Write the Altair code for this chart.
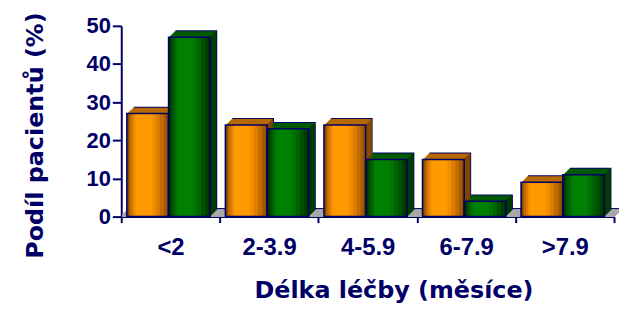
import altair as alt
import pandas as pd

categories = ["<2", "2-3.9", "4-5.9", "6-7.9", ">7.9"]
orange_vals = [27, 24, 24, 15, 9]
green_vals = [47, 23, 15, 4, 11]
y_ticks = [0, 10, 20, 30, 40, 50]

df = pd.DataFrame({
    "kat": categories * 2,
    "skupina": ["A"] * len(categories) + ["B"] * len(categories),
    "podil": orange_vals + green_vals,
})

NAVY = "#000066"
D = 7      # 3D depth in px
W = 42     # bar width in px
OFF = {"A": -23, "B": 19}
PW, PH = 496, 192

# shading strips of the front face: (width, shift from bar centre, colour)
STRIPS = {
    "A": [(42, 0, "#864600"), (38, 0, "#A45A00"), (34, -1, "#C26C00"),
          (28, -2, "#DE7E00"), (22, -3, "#F28E00"), (16, -4, "#FF9900")],
    "B": [(42, 0, "#002C00"), (38, 0, "#003E00"), (34, -1, "#005000"),
          (28, -2, "#006200"), (22, -3, "#007200"), (16, -4, "#008000")],
}
TOP = {"A": "#B86800", "B": "#005A00"}
SIDE = {"A": "#7A4000", "B": "#003600"}

x = alt.X(
    "kat:N", sort=categories,
    scale=alt.Scale(paddingInner=0, paddingOuter=0),
    axis=alt.Axis(
        title="Délka léčby (měsíce)", labelAngle=0, tickBand="extent",
        tickSize=6, labelPadding=13, labelFontSize=24, labelFont="Liberation Sans",
        titleFontSize=24, titleFont="DejaVu Sans",
        titleX=274, titleY=81, titleAlign="center", titleBaseline="alphabetic",
    ),
)
y = alt.Y(
    "podil:Q",
    scale=alt.Scale(domain=[0, 50], nice=False),
    axis=alt.Axis(
        title="Podíl pacientů (%)", values=y_ticks, tickSize=9, labelPadding=2,
        labelFontSize=22, labelFont="Liberation Sans",
        titleFontSize=24, titleFont="DejaVu Sans", titleAngle=270,
        titleX=-86, titleY=110, titleAlign="center", titleBaseline="middle",
    ),
)

base = alt.Chart(df).encode(x=x, y=y)


def series(s):
    return base.transform_filter(alt.datum.skupina == s)


layers = []

# floor (thin sheared slab under the bars)
for k in range(D, 0, -1):
    layers.append(
        alt.Chart(df).mark_rect(fill=NAVY if k == D else "#a8a8a8").encode(
            x=alt.value(k), x2=alt.value(PW + k),
            y=alt.value(PH - k - 1), y2=alt.value(PH - k + 1),
        )
    )

# extruded depth: shifted copies; the farthest in navy acts as outline
for k in range(D, 0, -1):
    for s in ("A", "B"):
        layers.append(series(s).mark_bar(
            size=W, xOffset=OFF[s] + k, yOffset=-k,
            fill=NAVY if k == D else TOP[s],
        ))
# side faces: one-pixel columns at the right edge of each shifted copy
for k in range(1, D):
    for s in ("A", "B"):
        layers.append(series(s).mark_bar(
            size=1, xOffset=OFF[s] + W / 2 + k - 0.5, yOffset=-k, fill=SIDE[s],
        ))

# front faces, shaded by nested strips
for s in ("A", "B"):
    for w, sh, c in STRIPS[s]:
        layers.append(series(s).mark_bar(size=w, xOffset=OFF[s] + sh, fill=c))
    layers.append(series(s).mark_bar(
        size=W, xOffset=OFF[s], fill="#ffffff", fillOpacity=0,
        stroke=NAVY, strokeWidth=1.5,
    ))

chart = alt.layer(*layers).properties(
    width=PW, height=PH,
    autosize=alt.AutoSizeParams(type="none"),
    padding={"left": 114, "top": 17, "right": 5, "bottom": 88},
).configure_view(stroke=None).configure_axis(
    labelFontWeight="bold", labelColor=NAVY,
    titleFontWeight="bold", titleColor=NAVY,
    domainColor=NAVY, tickColor=NAVY, domainWidth=2, tickWidth=2, grid=False,
)

chart.save("out.html", embed_options={"renderer": "svg", "actions": False})
